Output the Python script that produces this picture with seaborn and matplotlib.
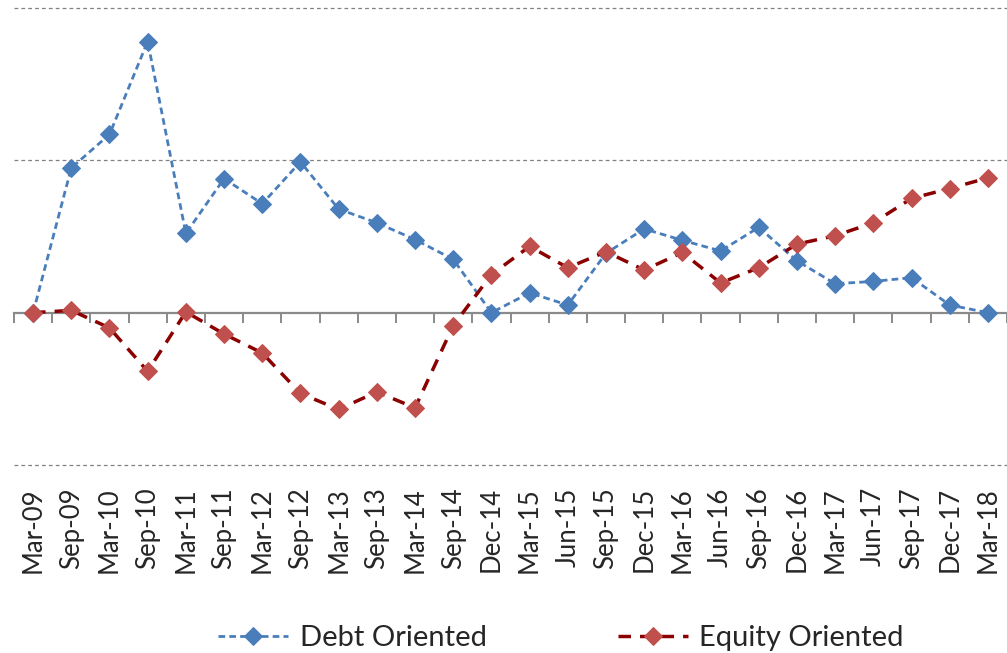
import matplotlib
matplotlib.use("Agg")
import matplotlib.pyplot as plt
import seaborn as sns
import numpy as np

# data (one gridline step = 10 units)
quarters = ["Mar-09", "Sep-09", "Mar-10", "Sep-10", "Mar-11", "Sep-11", "Mar-12",
            "Sep-12", "Mar-13", "Sep-13", "Mar-14", "Sep-14", "Dec-14", "Mar-15",
            "Jun-15", "Sep-15", "Dec-15", "Mar-16", "Jun-16", "Sep-16", "Dec-16",
            "Mar-17", "Jun-17", "Sep-17", "Dec-17", "Mar-18"]
debt = [0, 9.5, 11.7, 17.8, 5.2, 8.8, 7.15, 9.9, 6.8, 5.9, 4.8, 3.5, 0,
        1.3, 0.5, 3.9, 5.5, 4.75, 4.05, 5.6, 3.4, 1.9, 2.05, 2.3, 0.5, 0]
equity = [0, 0.15, -1.0, -3.85, 0.05, -1.4, -2.65, -5.3, -6.35, -5.2, -6.25, -0.85, 2.5,
          4.35, 2.95, 4.0, 2.8, 3.95, 1.95, 2.95, 4.5, 5.05, 5.9, 7.5, 8.15, 8.85]

sns.set_style("white")
plt.rcParams["font.family"] = ["Lato", "DejaVu Sans"]

x = np.arange(len(quarters))

fig = plt.figure(figsize=(10.07, 6.53), dpi=100)
ax = fig.add_axes([14 / 1007, 188 / 653, 993 / 1007, 457 / 653])

sns.lineplot(x=x, y=debt, ax=ax, color="#4a7ebb", linewidth=2.0,
             linestyle=(0, (2.4, 1.5)), marker="D", markersize=9.5,
             markeredgecolor="#4a7ebb", label="Debt Oriented")
sns.lineplot(x=x, y=equity, ax=ax, color="#8b0000", linewidth=2.5,
             linestyle=(0, (3.6, 2.6)), marker="D", markersize=9,
             markerfacecolor="#c0504d", markeredgecolor="#c0504d",
             label="Equity Oriented")

ax.set_xlim(-0.5, len(quarters) - 0.5)
ax.set_ylim(-10, 20)
ax.set_yticks([-10, 10, 20])
ax.set_yticklabels([])
ax.yaxis.grid(True, color="#808080", linestyle=(0, (3, 2.5)), linewidth=0.9)
for gl in ax.get_ygridlines():
    gl.set_clip_on(False)
ax.xaxis.grid(False)
for s in ax.spines.values():
    s.set_visible(False)
ax.set_xticks(x)
ax.set_xticklabels(quarters, rotation=90, fontsize=18.5)
ax.tick_params(axis="both", length=0)
ax.tick_params(axis="x", pad=16)

# zero axis with category boundary ticks
zero_ax = ax.secondary_xaxis(10 / 30)
zero_ax.set_xticks(np.arange(len(quarters) + 1) - 0.5)
zero_ax.set_xticklabels([])
zero_ax.tick_params(direction="out", length=7, width=1.4, color="#8a8a8a")
zero_ax.spines["bottom"].set_color("#8a8a8a")
zero_ax.spines["bottom"].set_linewidth(1.6)

handles, labels = ax.get_legend_handles_labels()
if ax.legend_:
    ax.legend_.remove()
fig.legend(handles, labels, loc="center", bbox_to_anchor=(0.557, 1 - 638 / 653),
           ncol=2, frameon=False, fontsize=21, handlelength=2.4,
           handletextpad=0.4, columnspacing=4.5)

plt.savefig("out.png", dpi=100)
